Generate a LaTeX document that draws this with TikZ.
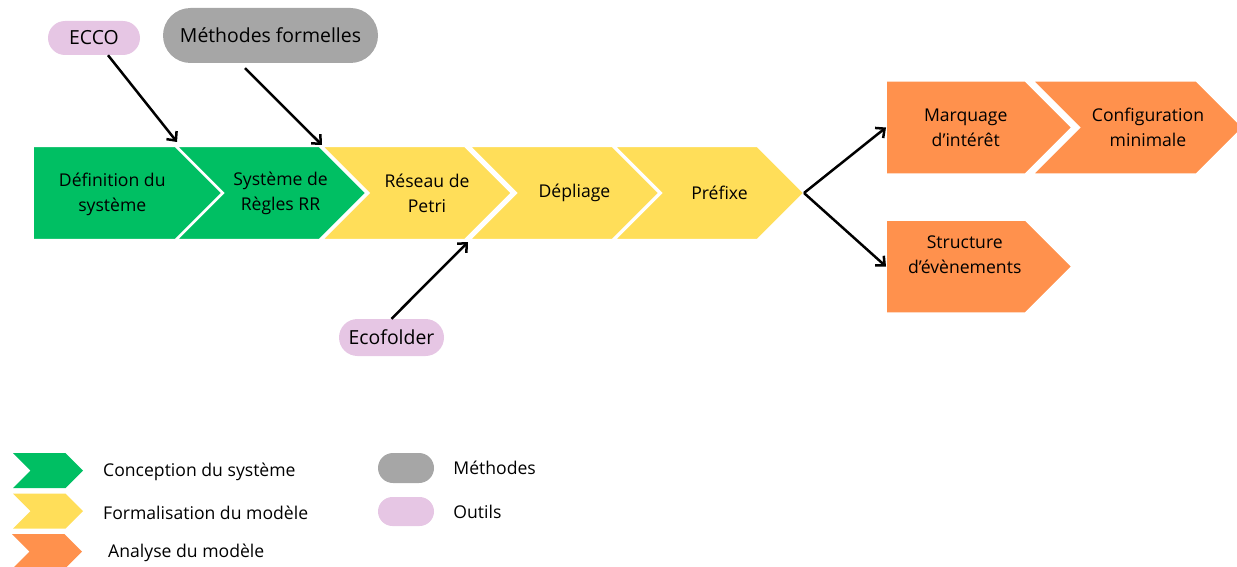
\documentclass[tikz,border=0pt]{standalone}
\usepackage{fontspec}
\setmainfont{Open Sans}
\usetikzlibrary{positioning,shapes.symbols,shapes.misc,arrows.meta}

\definecolor{conception}{HTML}{00BF63}
\definecolor{formalisation}{HTML}{FFDE59}
\definecolor{analyse}{HTML}{FF914D}
\definecolor{methode}{HTML}{A6A6A6}
\definecolor{outil}{HTML}{E6C6E4}

\tikzset{
    etape/.style={signal, signal to=east, signal from=west, draw=white, line width=1.5pt,
        minimum width=189, minimum height=93, inner sep=0pt, outer sep=0pt},
    debut/.style={etape, signal from=nowhere},
    txt/.style={align=center, inner sep=0pt, font=\fontsize{17.6}{25}\selectfont},
    pastille/.style={rounded rectangle, inner sep=0pt, font=\fontsize{19.4}{23}\selectfont},
    fleche/.style={-{Straight Barb[length=7pt,width=13pt]}, line width=2.5pt},
}

\begin{document}
\begin{tikzpicture}[x=1pt, y=-1pt]
    \useasboundingbox (0,0) rectangle (1237,567);

    % chaine principale
    \node[debut, fill=conception] (def) at (104.25,193) {};
    \node[etape, fill=conception] (sys) at (271.5,193) {};
    \node[etape, fill=formalisation] (res) at (417,193) {};
    \node[etape, fill=formalisation] (dep) at (564.5,193) {};
    \node[etape, fill=formalisation] (pre) at (709.5,193) {};
    \node[debut, fill=analyse, minimum width=186] (marq) at (955.75,127.5) {};
    \node[etape, fill=analyse, minimum width=210] (conf) at (1138,127.5) {};
    \node[debut, fill=analyse, minimum width=186] (struct) at (955.75,266.5) {};

    \node[txt] (t_def) at ([xshift=8,yshift=-1.5]def.center) {Définition du\\système};
    \node[txt] (t_sys) at ([xshift=9]sys.center) {Système de\\Règles RR};
    \node[txt] (t_res) at ([xshift=10]res.center) {Réseau de\\Petri};
    \node[txt] (t_dep) at ([xshift=10]dep.center) {Dépliage};
    \node[txt] (t_pre) at ([xshift=10]pre.center) {Préfixe};
    \node[txt] (t_marq) at ([xshift=10]marq.center) {Marquage\\d’intérêt};
    \node[txt] (t_conf) at ([xshift=10]conf.center) {Configuration\\minimale};
    \node[txt] (t_struct) at ([xshift=9,yshift=12]struct.center) {Structure\\d’évènements};

    % methodes et outils
    \node[pastille, fill=outil, minimum width=92, minimum height=34] (ecco) at (94,38) {ECCO};
    \node[pastille, fill=methode, minimum width=215, minimum height=55] (meth) at (270.5,35.5) {Méthodes formelles};
    \node[pastille, fill=outil, minimum width=105, minimum height=37] (ecof) at (391.5,337.5) {Ecofolder};

    \coordinate (j_ds) at (177,142);
    \coordinate (j_sr) at (322,145);
    \coordinate (j_rd) at (468,242);

    \draw[fleche] ([xshift=14]ecco.south) -- (j_ds);
    \draw[fleche] ([xshift=-25.5,yshift=-5]meth.south) -- (j_sr);
    \draw[fleche] (ecof.north) -- (j_rd);
    \draw[fleche] (pre.east) -- (marq.west);
    \draw[fleche] (pre.east) -- (struct.west);

    % legende
    \node[etape, draw=none, fill=conception, minimum width=70, minimum height=35] (leg_conc) at (48,470.5) {};
    \node[etape, draw=none, fill=formalisation, minimum width=70, minimum height=35] (leg_form) at (48,511) {};
    \node[etape, draw=none, fill=analyse, minimum width=70, minimum height=35] (leg_ana) at (47,551.5) {};
    \node[txt, right=20 of leg_conc, yshift=-1.5] (t_conc) {Conception du système};
    \node[txt, right=20 of leg_form, yshift=-1.5] (t_form) {Formalisation du modèle};
    \node[txt, right=26 of leg_ana, yshift=-1.5] (t_ana) {Analyse du modèle};

    \node[pastille, fill=methode, minimum width=56, minimum height=30] (leg_meth) at (406,468) {};
    \node[pastille, fill=outil, minimum width=56, minimum height=29] (leg_out) at (406,511.5) {};
    \node[txt, right=19 of leg_meth] (t_meth) {Méthodes};
    \node[txt, right=19 of leg_out] (t_out) {Outils};
\end{tikzpicture}
\end{document}
